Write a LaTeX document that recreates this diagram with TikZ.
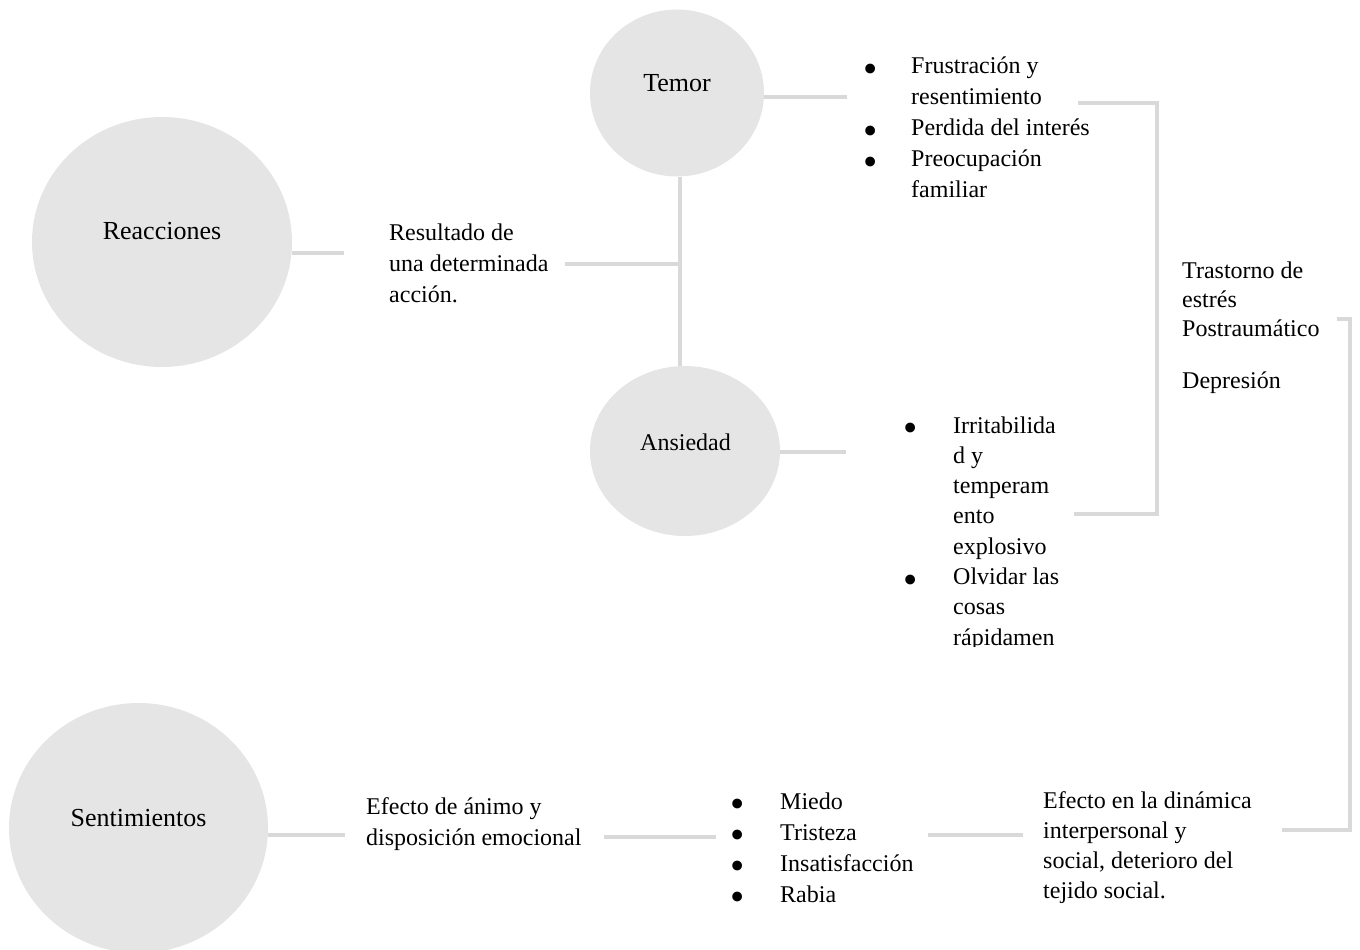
\documentclass[tikz,border=0pt]{standalone}
\usepackage{fontspec}
\setmainfont{Liberation Serif}
\usetikzlibrary{shapes.geometric}
\definecolor{circfill}{HTML}{E5E5E5}
\definecolor{connc}{HTML}{D9D9D9}
\newcommand{\bulitem}[1]{\makebox[#1][l]{\hspace*{-3pt}\smash{\raisebox{-8.5pt}{\scalebox{1.7}{\textbullet}}}}}
\newcommand{\bulcont}[1]{\hspace*{#1}}
\begin{document}
\begin{tikzpicture}[x=1pt,y=-1pt,
  bubble/.style={ellipse, fill=circfill, draw=none, inner sep=0pt},
  conn/.style={draw=connc, line width=4pt, line join=miter},
  lbl/.style={anchor=base, inner sep=0pt, font=\fontsize{26}{31}\selectfont},
  txt/.style={anchor=base west, inner sep=0pt, font=\fontsize{24}{31}\selectfont}]
\useasboundingbox (0,0) rectangle (1360,950);

% bubbles
\node[bubble, minimum width=260pt, minimum height=250pt] (reac) at (162,242) {};
\node[bubble, minimum width=174pt, minimum height=167pt] (temor) at (677,93) {};
\node[bubble, minimum width=190pt, minimum height=170pt] (ansi) at (685,451) {};
\node[bubble, minimum width=259pt, minimum height=250pt] (sent) at (138.5,828) {};

% bubble labels
\node[lbl] (reacL) at (162,239) {Reacciones};
\node[lbl] (temorL) at (677,92) {Temor};
\node[lbl, font=\fontsize{24}{31}\selectfont] (ansiL) at (685.5,450) {Ansiedad};
\node[lbl] (sentL) at (138.5,826) {Sentimientos};

% texts
\node[txt] (res) at (389,240) {\begin{tabular}[t]{@{}l@{}}Resultado de\\una determinada\\acción.\end{tabular}};

\node[txt] (tlist) at (866,74) {\begin{tabular}[t]{@{}l@{}}\bulitem{45pt}Frustración y\\\bulcont{45pt}resentimiento\\\bulitem{45pt}Perdida del interés\\\bulitem{45pt}Preocupación\\\bulcont{45pt}familiar\end{tabular}};

\node[txt, font=\fontsize{24}{29}\selectfont] (tept) at (1182,278) {\begin{tabular}[t]{@{}l@{}}Trastorno de\\estrés\\Postraumático\\[-6pt] \\Depresión\end{tabular}};

\begin{scope}
\clip (850,390) rectangle (1100,646);
\node[txt, font=\fontsize{24}{30.3}\selectfont] (alist) at (906,433) {\begin{tabular}[t]{@{}l@{}}\bulitem{47pt}Irritabilida\\\bulcont{47pt}d y\\\bulcont{47pt}temperam\\\bulcont{47pt}ento\\\bulcont{47pt}explosivo\\\bulitem{47pt}Olvidar las\\\bulcont{47pt}cosas\\\bulcont{47pt}rápidamen\end{tabular}};
\end{scope}

\node[txt] (efa) at (366,814) {\begin{tabular}[t]{@{}l@{}}Efecto de ánimo y\\disposición emocional\end{tabular}};

\node[txt] (slist) at (733,809) {\begin{tabular}[t]{@{}l@{}}\bulitem{47pt}Miedo\\\bulitem{47pt}Tristeza\\\bulitem{47pt}Insatisfacción\\\bulitem{47pt}Rabia\end{tabular}};

\node[txt, font=\fontsize{24}{30}\selectfont] (efd) at (1043,808) {\begin{tabular}[t]{@{}l@{}}Efecto en la dinámica\\interpersonal y\\social, deterioro del\\tejido social.\end{tabular}};

% free ends
\coordinate (r1) at (344,253);
\coordinate (r2) at (565,264);
\coordinate (vtop) at ([xshift=3pt]temor.south);
\coordinate (t1) at (847,97);
\coordinate (a1) at (846,452);
\coordinate (b1) at (1078,103);
\coordinate (b2) at (1157,514);
\coordinate (b3) at (1074,514);
\coordinate (c1) at (1337,319);
\coordinate (c2) at (1350,830);
\coordinate (c3) at (1282,830);
\coordinate (s1) at (345,835);
\coordinate (e1) at (604,837);
\coordinate (e2) at (716,837);
\coordinate (f1) at (928,835);
\coordinate (f2) at (1023,835);

% connectors
\draw[conn] (reac.east |- r1) -- (r1);
\draw[conn] (r2) -- (r2 -| vtop);
\draw[conn] (vtop) -- (vtop |- ansi.north);
\draw[conn] (temor.east |- t1) -- (t1);
\draw[conn] (ansi.east |- a1) -- (a1);
\draw[conn] (b1) -| (b2) -- (b3);
\draw[conn] (c1) -| (c2) -- (c3);
\draw[conn] (sent.east |- s1) -- (s1);
\draw[conn] (e1) -- (e2);
\draw[conn] (f1) -- (f2);
\end{tikzpicture}
\end{document}
